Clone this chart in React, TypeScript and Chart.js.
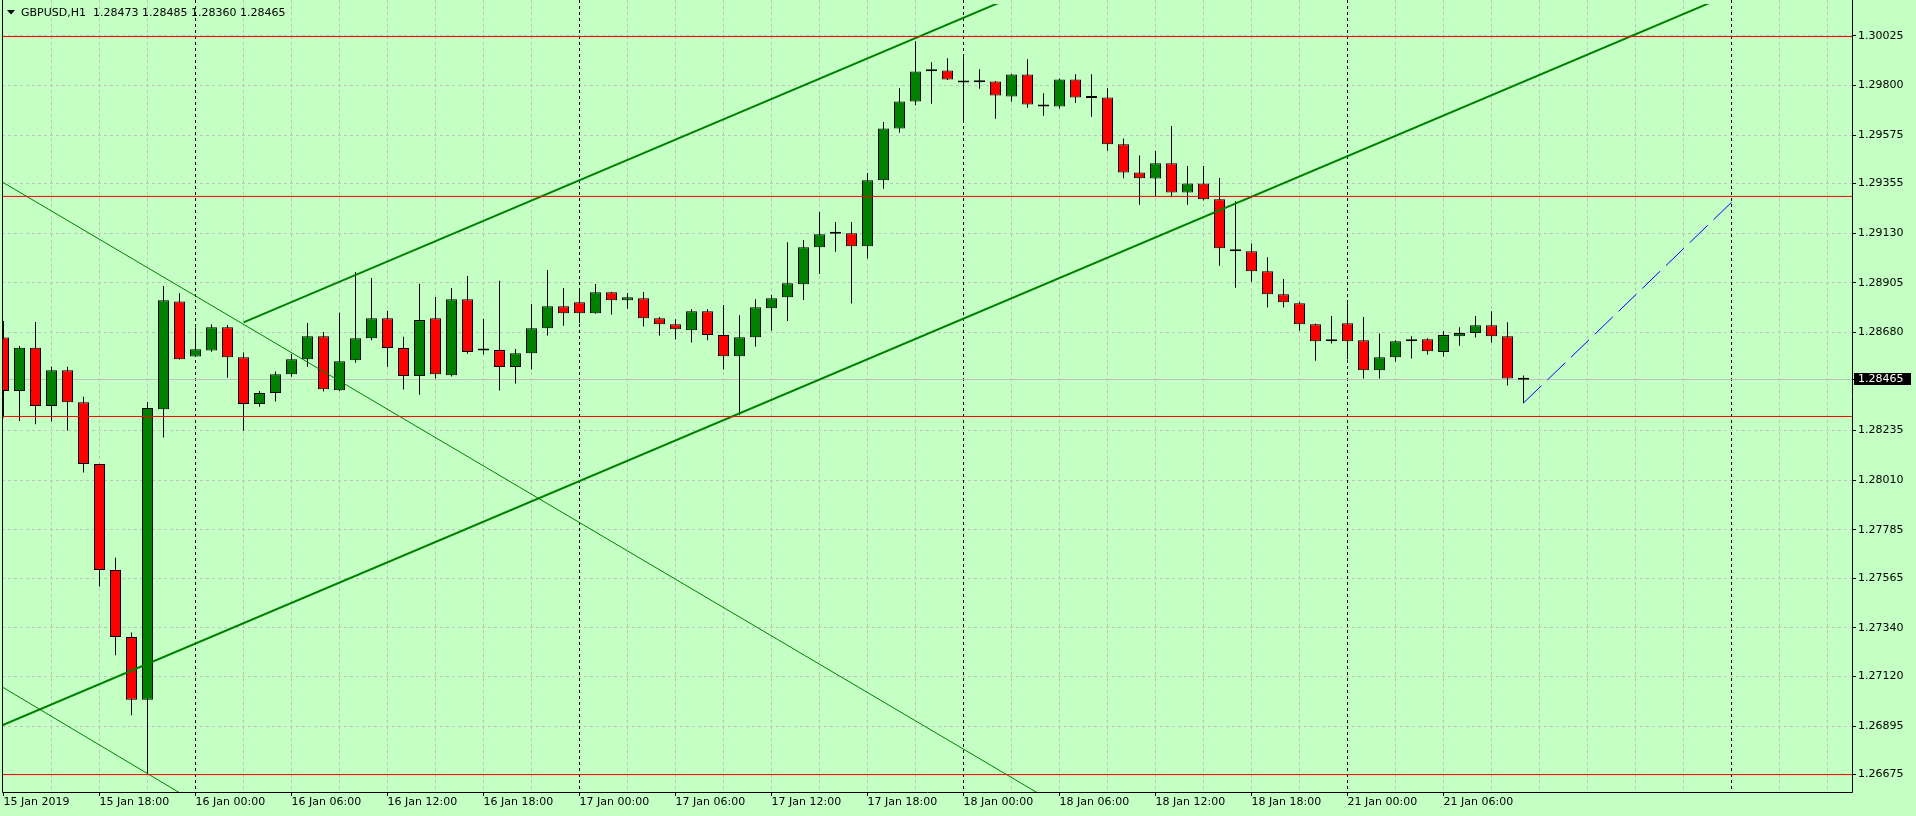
import React, { useEffect, useRef } from 'react';
import { Chart, registerables } from 'chart.js';

Chart.register(...registerables);

// ---------- data ----------
const symbolTitle = 'GBPUSD,H1';
const headerValues = ['1.28473', '1.28485', '1.28360', '1.28465'];

const opens = [
  1.28657, 1.28415, 1.28611, 1.28346, 1.28509, 1.28364, 1.28083, 1.27603, 1.27299, 1.27014,
  1.28332, 1.28820, 1.28571, 1.28598, 1.28704, 1.28568, 1.28355, 1.28405, 1.28491, 1.28559,
  1.28663, 1.28418, 1.28554, 1.28654, 1.28745, 1.28609, 1.28482, 1.28745, 1.28486, 1.28831,
  1.28598, 1.28600, 1.28523, 1.28586, 1.28699, 1.28799, 1.28817, 1.28767, 1.28862, 1.28826,
  1.28835, 1.28745, 1.28717, 1.28690, 1.28776, 1.28668, 1.28572, 1.28658, 1.28790, 1.28840,
  1.28899, 1.29066, 1.29128, 1.29130, 1.29071, 1.29370, 1.29605, 1.29728, 1.29865, 1.29868,
  1.29814, 1.29815, 1.29818, 1.29750, 1.29850, 1.29714, 1.29705, 1.29827, 1.29743, 1.29746,
  1.29533, 1.29406, 1.29378, 1.29447, 1.29315, 1.29356, 1.29284, 1.29057, 1.29048, 1.28958,
  1.28853, 1.28813, 1.28717, 1.28640, 1.28722, 1.28645, 1.28509, 1.28568, 1.28640, 1.28649,
  1.28591, 1.28663, 1.28677, 1.28713, 1.28663, 1.28473,
];
const highs = [
  1.28732, 1.28619, 1.28728, 1.28524, 1.28524, 1.28388, 1.28085, 1.27658, 1.27319, 1.28365,
  1.28891, 1.28858, 1.28702, 1.28717, 1.28714, 1.28589, 1.28415, 1.28503, 1.28584, 1.28723,
  1.28682, 1.28769, 1.28954, 1.28927, 1.28778, 1.28660, 1.28901, 1.28841, 1.28882, 1.28936,
  1.28741, 1.28914, 1.28605, 1.28809, 1.28963, 1.28882, 1.28868, 1.28900, 1.28864, 1.28859,
  1.28864, 1.28750, 1.28740, 1.28785, 1.28785, 1.28805, 1.28758, 1.28831, 1.28850, 1.29089,
  1.29099, 1.29226, 1.29181, 1.29181, 1.29403, 1.29634, 1.29788, 1.30001, 1.29906, 1.29924,
  1.29928, 1.29874, 1.29820, 1.29852, 1.29919, 1.29765, 1.29832, 1.29851, 1.29851, 1.29788,
  1.29560, 1.29483, 1.29503, 1.29616, 1.29435, 1.29435, 1.29380, 1.29275, 1.29084, 1.29021,
  1.28923, 1.28819, 1.28719, 1.28755, 1.28813, 1.28750, 1.28675, 1.28645, 1.28663, 1.28654,
  1.28686, 1.28704, 1.28755, 1.28776, 1.28726, 1.28485,
];
const lows = [
  1.28294, 1.28279, 1.28264, 1.28276, 1.28235, 1.28045, 1.27528, 1.27216, 1.26944, 1.26678,
  1.28204, 1.28557, 1.28569, 1.28593, 1.28475, 1.28234, 1.28343, 1.28367, 1.28479, 1.28524,
  1.28412, 1.28415, 1.28543, 1.28645, 1.28524, 1.28421, 1.28398, 1.28471, 1.28480, 1.28584,
  1.28580, 1.28417, 1.28448, 1.28512, 1.28666, 1.28711, 1.28722, 1.28765, 1.28761, 1.28788,
  1.28707, 1.28666, 1.28648, 1.28634, 1.28645, 1.28512, 1.28305, 1.28616, 1.28688, 1.28732,
  1.28827, 1.28945, 1.29046, 1.28811, 1.29015, 1.29332, 1.29586, 1.29710, 1.29717, 1.29825,
  1.29635, 1.29785, 1.29649, 1.29728, 1.29699, 1.29663, 1.29696, 1.29721, 1.29658, 1.29504,
  1.29379, 1.29259, 1.29294, 1.29293, 1.29259, 1.29279, 1.28983, 1.28883, 1.28910, 1.28793,
  1.28793, 1.28688, 1.28552, 1.28630, 1.28557, 1.28471, 1.28471, 1.28548, 1.28562, 1.28580,
  1.28571, 1.28620, 1.28657, 1.28634, 1.28439, 1.28360,
];
const closes = [
  1.28415, 1.28611, 1.28346, 1.28509, 1.28364, 1.28083, 1.27603, 1.27299, 1.27014, 1.28337,
  1.28826, 1.28559, 1.28604, 1.28704, 1.28568, 1.28355, 1.28405, 1.28491, 1.28559, 1.28663,
  1.28423, 1.28550, 1.28654, 1.28745, 1.28609, 1.28482, 1.28736, 1.28491, 1.28831, 1.28591,
  1.28598, 1.28523, 1.28586, 1.28699, 1.28799, 1.28767, 1.28767, 1.28862, 1.28826, 1.28840,
  1.28745, 1.28717, 1.28695, 1.28776, 1.28668, 1.28572, 1.28658, 1.28794, 1.28835, 1.28903,
  1.29066, 1.29125, 1.29128, 1.29071, 1.29370, 1.29605, 1.29728, 1.29864, 1.29865, 1.29827,
  1.29814, 1.29816, 1.29755, 1.29850, 1.29714, 1.29705, 1.29827, 1.29746, 1.29743, 1.29533,
  1.29406, 1.29379, 1.29447, 1.29315, 1.29356, 1.29284, 1.29062, 1.29048, 1.28958, 1.28853,
  1.28817, 1.28717, 1.28640, 1.28649, 1.28640, 1.28509, 1.28568, 1.28640, 1.28649, 1.28595,
  1.28668, 1.28678, 1.28713, 1.28663, 1.28471, 1.28465,
];

const xTickIndex = [0, 6, 12, 18, 24, 30, 36, 42, 48, 54, 60, 66, 72, 78, 84, 90];
const xTickLabels = [
  '15 Jan 2019', '15 Jan 18:00', '16 Jan 00:00', '16 Jan 06:00', '16 Jan 12:00', '16 Jan 18:00',
  '17 Jan 00:00', '17 Jan 06:00', '17 Jan 12:00', '17 Jan 18:00', '18 Jan 00:00', '18 Jan 06:00',
  '18 Jan 12:00', '18 Jan 18:00', '21 Jan 00:00', '21 Jan 06:00',
];
const yTickValues = [
  1.30025, 1.298, 1.29575, 1.29355, 1.2913, 1.28905, 1.2868, 1.28235, 1.2801, 1.27785,
  1.27565, 1.2734, 1.2712, 1.26895, 1.26675,
];
const yTickLabels = [
  '1.30025', '1.29800', '1.29575', '1.29355', '1.29130', '1.28905', '1.28680', '1.28235',
  '1.28010', '1.27785', '1.27565', '1.27340', '1.27120', '1.26895', '1.26675',
];
const daySeparators = [12, 36, 60, 84, 108];
const bidPrice = 1.28465;
const bidLabel = '1.28465';
const levelPrices = [1.30022, 1.29297, 1.28299, 1.26675];

const channelLower = [[-1, 1.2687], [116, 1.30462]];
const channelUpper = [[15, 1.28726], [116, 1.31826]];
const thinUpper = [[-1, 1.29402], [70, 1.26362]];
const thinLower = [[-1, 1.27112], [14, 1.26463]];
const projection = [[95, 1.2836], [108, 1.2927]];

// ---------- styles ----------
const FONT = '"DejaVu Sans", "Liberation Sans", sans-serif';
const BG = '#C4FFC4';
const GRID = '#C0C0C0';
const BULL = '#008000';
const BEAR = '#FF0000';
const LINE_GREEN = '#008000';

export default function App() {
  const ref = useRef<HTMLCanvasElement>(null);

  useEffect(() => {
    const canvas = ref.current;
    if (!canvas) return;
    const idx = opens.map((_, i) => i);
    const wickData = idx.map((i) => ({ x: i, y: [lows[i], highs[i]] }));
    const bodyData = idx.map((i) => ({ x: i, y: [opens[i], closes[i]] }));
    const bodyColors = idx.map((i) =>
      closes[i] > opens[i] ? BULL : closes[i] < opens[i] ? BEAR : '#000000'
    );

    const lineDs = (pts: number[][], color: string, width: number, dash: number[] = []) => ({
      type: 'line' as const,
      data: pts.map(([x, y]) => ({ x, y })),
      borderColor: color,
      backgroundColor: color,
      borderWidth: width,
      borderDash: dash,
      pointRadius: 0,
      fill: false,
      tension: 0,
      clip: { left: 0, top: -4, right: 0, bottom: 0 },
      order: 0,
    });

    const mt4Plugin = {
      id: 'mt4',
      beforeDraw(chart: any) {
        const { ctx } = chart;
        ctx.save();
        ctx.fillStyle = BG;
        ctx.fillRect(0, 0, chart.width, chart.height);
        ctx.restore();
      },
      beforeDatasetsDraw(chart: any) {
        const { ctx, chartArea: a, scales } = chart;
        const xs = scales.x;
        const ys = scales.y;
        ctx.save();
        ctx.beginPath();
        ctx.rect(a.left, a.top, a.right - a.left, a.bottom - a.top);
        ctx.clip();
        ctx.lineWidth = 1;
        const vline = (px: number) => {
          ctx.beginPath();
          ctx.moveTo(px, a.top);
          ctx.lineTo(px, a.bottom);
          ctx.stroke();
        };
        const hline = (py: number) => {
          ctx.beginPath();
          ctx.moveTo(a.left, py);
          ctx.lineTo(a.right, py);
          ctx.stroke();
        };
        ctx.strokeStyle = GRID;
        ctx.setLineDash([3, 3]);
        for (let i = 3; i <= xs.max; i += 3) {
          if (daySeparators.includes(i)) continue;
          vline(Math.floor(xs.getPixelForValue(i)) + 0.5);
        }
        yTickValues.forEach((v) => hline(Math.floor(ys.getPixelForValue(v)) + 0.5));
        ctx.strokeStyle = '#000000';
        daySeparators.forEach((d) => vline(Math.floor(xs.getPixelForValue(d)) + 0.5));
        ctx.setLineDash([]);
        ctx.strokeStyle = GRID;
        hline(Math.floor(ys.getPixelForValue(bidPrice)) + 0.5);
        ctx.restore();
      },
      afterDraw(chart: any) {
        const { ctx, chartArea: a, scales } = chart;
        const xs = scales.x;
        const ys = scales.y;
        ctx.save();
        ctx.lineWidth = 1;
        ctx.strokeStyle = '#000000';
        ctx.setLineDash([]);
        // borders
        ctx.beginPath();
        ctx.moveTo(a.left + 0.5, 0);
        ctx.lineTo(a.left + 0.5, a.bottom + 0.5);
        ctx.lineTo(a.right + 0.5, a.bottom + 0.5);
        ctx.lineTo(a.right + 0.5, 0);
        ctx.stroke();
        // x tick marks
        xTickIndex.forEach((v) => {
          const px = Math.floor(xs.getPixelForValue(v)) + 0.5;
          ctx.beginPath();
          ctx.moveTo(px, a.bottom + 1);
          ctx.lineTo(px, a.bottom + 4);
          ctx.stroke();
        });
        // y tick marks
        [...yTickValues, bidPrice].forEach((v) => {
          const py = Math.floor(ys.getPixelForValue(v)) + 0.5;
          ctx.beginPath();
          ctx.moveTo(a.right + 1, py);
          ctx.lineTo(a.right + 4, py);
          ctx.stroke();
        });
        // price label
        const bp = Math.floor(ys.getPixelForValue(bidPrice)) + 0.5;
        ctx.fillStyle = '#000000';
        ctx.fillRect(a.right + 2, bp - 6.5, 57, 12);
        ctx.fillStyle = '#FFFFFF';
        ctx.font = `11px ${FONT}`;
        ctx.textBaseline = 'middle';
        ctx.textAlign = 'left';
        ctx.fillText(bidLabel, a.right + 6, bp);
        // header
        ctx.fillStyle = '#000000';
        ctx.beginPath();
        ctx.moveTo(7, 10);
        ctx.lineTo(15, 10);
        ctx.lineTo(11, 14.5);
        ctx.closePath();
        ctx.fill();
        ctx.fillText(`${symbolTitle}  ${headerValues.join(' ')}`, 21, 13);
        ctx.restore();
      },
    };

    const chart = new Chart(canvas, {
      type: 'bar',
      data: {
        datasets: [
          lineDs([[-1, levelPrices[0]], [116, levelPrices[0]]], BEAR, 1),
          lineDs([[-1, levelPrices[1]], [116, levelPrices[1]]], BEAR, 1),
          lineDs([[-1, levelPrices[2]], [116, levelPrices[2]]], BEAR, 1),
          lineDs([[-1, levelPrices[3]], [116, levelPrices[3]]], BEAR, 1),
          lineDs(channelLower, LINE_GREEN, 2),
          lineDs(channelUpper, LINE_GREEN, 2),
          lineDs(thinUpper, LINE_GREEN, 1),
          lineDs(thinLower, LINE_GREEN, 1),
          lineDs(projection, '#0000FF', 1, [25, 8]),
          {
            type: 'bar',
            data: bodyData as any,
            backgroundColor: bodyColors,
            borderColor: '#000000',
            borderWidth: 1,
            borderSkipped: false,
            barThickness: 11,
            minBarLength: 2,
            grouped: false,
            inflateAmount: 0,
            clip: 0,
            order: 1,
          } as any,
          {
            type: 'bar',
            data: wickData as any,
            backgroundColor: '#000000',
            borderWidth: 0,
            barThickness: 1,
            grouped: false,
            inflateAmount: 0,
            clip: 0,
            order: 2,
          } as any,
        ],
      },
      plugins: [mt4Plugin],
      options: {
        animation: false,
        responsive: false,
        maintainAspectRatio: false,
        devicePixelRatio: 1,
        events: [],
        layout: { padding: { left: 2, right: 0, top: 0, bottom: 0 } },
        plugins: { legend: { display: false }, tooltip: { enabled: false }, title: { display: false } },
        scales: {
          x: {
            type: 'linear',
            position: 'bottom',
            min: -0.09375,
            max: 115.53125,
            offset: false,
            bounds: 'data',
            grid: { display: false, drawTicks: false },
            border: { display: false },
            afterBuildTicks: (scale: any) => {
              scale.ticks = xTickIndex.map((v) => ({ value: v }));
            },
            afterFit: (scale: any) => {
              scale.height = 24;
              scale.paddingLeft = 0;
              scale.paddingRight = 0;
            },
            ticks: {
              align: 'start',
              autoSkip: false,
              maxRotation: 0,
              minRotation: 0,
              padding: 4,
              color: '#000000',
              font: { family: FONT, size: 11 },
              callback: (_v: any, i: number) => xTickLabels[i],
            },
          },
          y: {
            type: 'linear',
            position: 'right',
            min: 1.2659592,
            max: 1.3018776,
            beginAtZero: false,
            bounds: 'data',
            grid: { display: false, drawTicks: false },
            border: { display: false },
            afterBuildTicks: (scale: any) => {
              scale.ticks = yTickValues.map((v) => ({ value: v }));
            },
            afterFit: (scale: any) => {
              scale.width = 64;
              scale.paddingTop = 0;
              scale.paddingBottom = 0;
            },
            ticks: {
              autoSkip: false,
              padding: 6,
              color: '#000000',
              font: { family: FONT, size: 11 },
              callback: (_v: any, i: number) => yTickLabels[i],
            },
          },
        },
      } as any,
    });

    return () => chart.destroy();
  }, []);

  return (
    <div style={{ position: 'fixed', left: 0, top: 0, width: 1916, height: 816, background: BG }}>
      <canvas ref={ref} width={1916} height={816} style={{ display: 'block', width: 1916, height: 816 }} />
    </div>
  );
}
